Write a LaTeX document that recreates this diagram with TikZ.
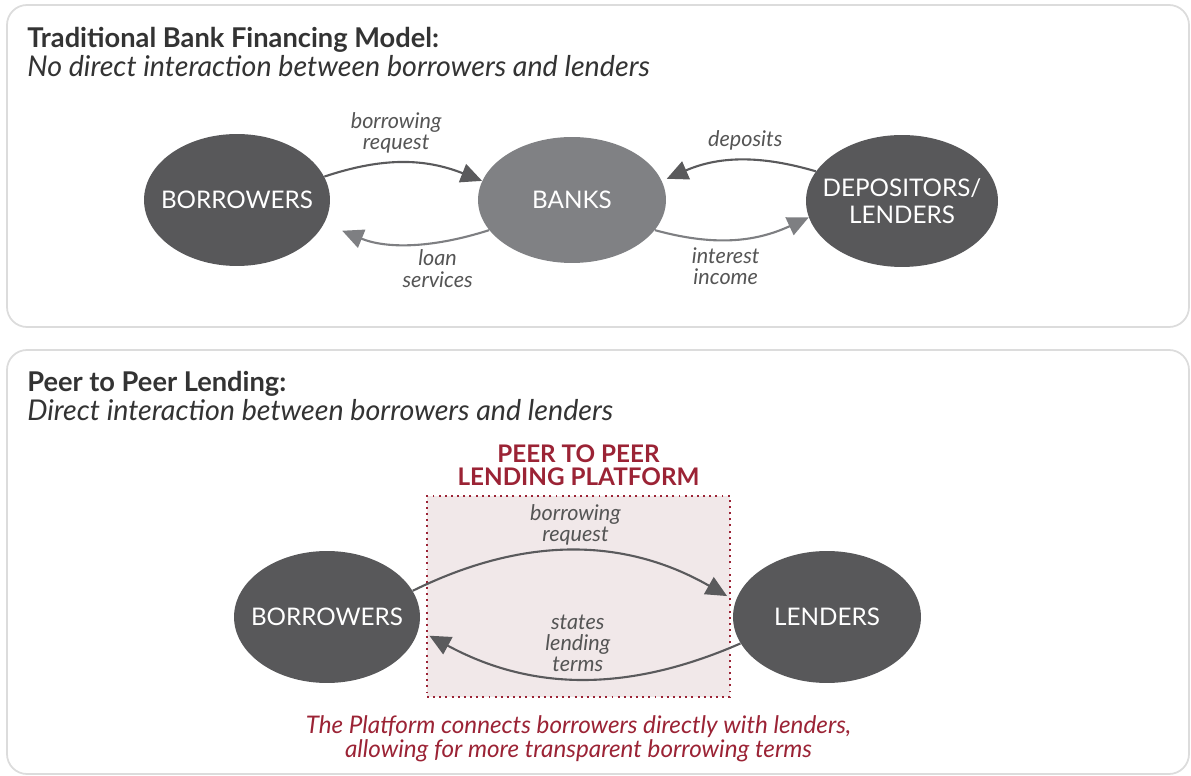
\documentclass[tikz,border=0pt]{standalone}
\usepackage{fontspec}
\setmainfont{Lato}
\usetikzlibrary{arrows.meta, shapes.geometric, positioning}

\definecolor{darkbubble}{HTML}{58585A}
\definecolor{bankgray}{HTML}{808184}
\definecolor{darkline}{HTML}{5A5A5C}
\definecolor{lightline}{HTML}{7E7F82}
\definecolor{platred}{HTML}{9B2335}
\definecolor{platfill}{HTML}{F1E8E9}
\definecolor{panelline}{HTML}{DCDCDC}
\definecolor{textgray}{HTML}{333333}
\definecolor{labelgray}{HTML}{555555}

\begin{document}
\begin{tikzpicture}[x = 0.02cm, y = 0.02cm,
    panel/.style = {draw = panelline, line width = 1pt, rounded corners = 0.4cm},
    heading/.style = {anchor = north west, align = left, inner sep = 0pt, text = textgray},
    bubble/.style = {ellipse, fill = darkbubble, text = white, inner xsep = -6.5pt, inner ysep = 0pt, minimum width = 3.72cm, minimum height = 2.64cm, align = center, font = \fontsize{13.8}{15.5}\selectfont},
    bank/.style = {bubble, fill = bankgray, minimum width = 3.76cm, minimum height = 2.52cm},
    platform/.style = {rectangle, fill = platfill, draw = platred, line width = 1.1pt, dash pattern = on 1.1pt off 2.4pt, minimum width = 6.06cm, minimum height = 4.02cm},
    platname/.style = {text = platred, align = center, inner sep = 0pt, font = \fontsize{13.8}{13}\selectfont\bfseries},
    note/.style = {text = platred, align = center, inner sep = 0pt, font = \fontsize{13.8}{12.5}\selectfont\itshape},
    flow/.style = {line width = 1.2pt, draw = darkline, -{Triangle[length = 12pt, width = 11pt]}},
    backflow/.style = {flow, draw = lightline},
    tag/.style = {text = labelgray, align = center, inner sep = 1pt, font = \fontsize{12.3}{12}\selectfont\itshape}]
  \useasboundingbox (0, 0) rectangle (1191, -776);
  \draw[panel] (7, -5) rectangle (1189, -327);
  \draw[panel] (7, -350) rectangle (1189, -774);

  \node[heading] (banktitle) at (27, -27) {\fontsize{15.5}{16}\selectfont\bfseries Traditional Bank Financing Model:\\[0.5pt]\fontsize{16.3}{16}\selectfont\itshape No direct interaction between borrowers and lenders};
  \node[bubble] (oldborrowers) at (237, -200) {BORROWERS};
  \node[bank] (banks) at (572, -200) {BANKS};
  \node[bubble, minimum width = 3.76cm] (depositors) at (902, -201) {DEPOSITORS/\\LENDERS};
  \path (oldborrowers.15) edge[flow, bend left = 20] node[tag, above = 4pt, pos = 0.45] {borrowing\\request} (banks.168)
        (banks.200) edge[backflow, bend left = 20, shorten > = 11pt] node[tag, below = 3pt, pos = 0.3] {loan\\services} (oldborrowers.-15)
        (depositors.161) edge[flow, bend right = 20, shorten > = 3pt] node[tag, above = 4pt, pos = 0.45] {deposits} (banks.12)
        (banks.-20) edge[backflow, bend right = 20] node[tag, below = 3pt, pos = 0.45] {interest\\income} (depositors.190);

  \node[heading] (p2ptitle) at (27, -371) {\fontsize{15.5}{16}\selectfont\bfseries Peer to Peer Lending:\\[0.5pt]\fontsize{16.3}{16}\selectfont\itshape Direct interaction between borrowers and lenders};
  \node[platform] (platform) at (578.5, -596.5) {};
  \node[platname, above = 5pt of platform] (platformname) {PEER TO PEER\\LENDING PLATFORM};
  \node[note, below = 10pt of platform] (platformnote) {The Platform connects borrowers directly with lenders,\\allowing for more transparent borrowing terms};
  \node[bubble] (borrowers) at (327, -617) {BORROWERS};
  \node[bubble, minimum width = 3.76cm] (lenders) at (827, -617) {LENDERS};
  \path (borrowers.17) edge[flow, bend left = 28, shorten > = 5.5pt] node[tag, above = 2pt] {borrowing\\request} (lenders.170)
        (lenders.197) edge[flow, bend left = 26, shorten > = 7pt] node[tag, above = 2pt] {states\\lending\\terms} (borrowers.-8);
\end{tikzpicture}
\end{document}
